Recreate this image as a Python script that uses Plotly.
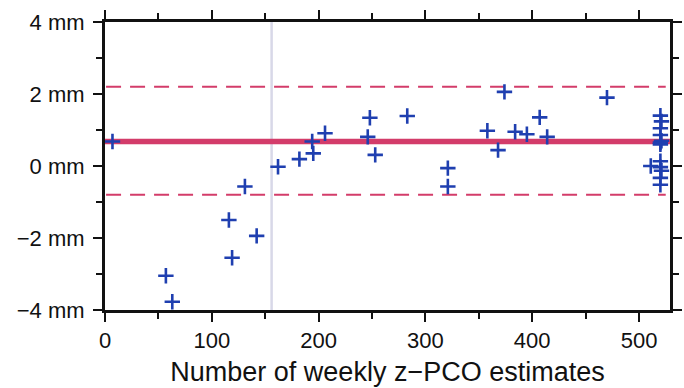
import plotly.graph_objects as go

# Data: weekly z-PCO estimate count vs. offset (mm)
n_estimates = [7, 57, 63, 116, 119, 131, 142, 162, 182, 194, 195, 206,
               246, 248, 253, 283, 321, 321, 358, 368, 374, 384, 395, 407,
               414, 470, 511,
               520, 521, 520, 520, 521, 520, 520, 520, 520, 521, 520, 520]
offset_mm = [0.68, -3.05, -3.77, -1.5, -2.55, -0.57, -1.94, -0.02, 0.19, 0.68, 0.35, 0.91,
             0.81, 1.34, 0.31, 1.39, -0.06, -0.57, 0.98, 0.44, 2.06, 0.95, 0.88, 1.35,
             0.81, 1.9, 0.0,
             1.4, 1.24, 1.05, 0.86, 0.7, 0.65, 0.6, 0.13, -0.03, -0.13, -0.33, -0.52]

mean_offset = 0.68
upper_limit = 2.2
lower_limit = -0.8
split_n = 156
x_span = [0, 529]
y_span = [-4, 4]

x_tickvals = [0, 100, 200, 300, 400, 500]
y_tickvals = [-4, -2, 0, 2, 4]
y_ticktext = ["\u22124 mm", "\u22122 mm", "0 mm", "2 mm", "4 mm"]

red = "#d33c6a"
blue = "#1f3fb0"

fig = go.Figure()

# vertical split line
fig.add_trace(go.Scatter(x=[split_n, split_n], y=y_span, mode="lines",
                         line=dict(color="#d8d8e8", width=2.5),
                         hoverinfo="skip", showlegend=False))
# limits
for lim in (upper_limit, lower_limit):
    fig.add_trace(go.Scatter(x=[1, 525], y=[lim, lim], mode="lines",
                             line=dict(color=red, width=2, dash="15px,9px"),
                             hoverinfo="skip", showlegend=False))
# mean
fig.add_trace(go.Scatter(x=x_span, y=[mean_offset, mean_offset], mode="lines",
                         line=dict(color=red, width=5.5),
                         hoverinfo="skip", showlegend=False))
# points
fig.add_trace(go.Scatter(x=n_estimates, y=offset_mm, mode="markers",
                         marker=dict(symbol="cross-thin", size=11,
                                     line=dict(color=blue, width=2.6)),
                         cliponaxis=False, showlegend=False))

font = "Liberation Sans, Arial, Helvetica, sans-serif"

fig.update_layout(
    width=684, height=388,
    margin=dict(l=105, r=2, t=22, b=78),
    paper_bgcolor="white", plot_bgcolor="white",
    font=dict(family=font, color="#111111"),
    xaxis=dict(range=x_span, tickvals=x_tickvals, ticks="outside",
               ticklen=9, tickwidth=2, tickcolor="#111111",
               minor=dict(dtick=50, tick0=0, ticks="outside", ticklen=6,
                          tickwidth=2, tickcolor="#111111"),
               showline=True, linewidth=3, linecolor="#111111", mirror="ticks",
               showgrid=False, zeroline=False,
               tickfont=dict(size=22),
               title=dict(text="Number of weekly z\u2212PCO estimates",
                          font=dict(size=27), standoff=10)),
    yaxis=dict(range=y_span, tickvals=y_tickvals, ticktext=y_ticktext,
               ticks="outside", ticklen=9, tickwidth=2, tickcolor="#111111",
               minor=dict(dtick=1, tick0=0, ticks="outside", ticklen=6,
                          tickwidth=2, tickcolor="#111111"),
               showline=True, linewidth=3, linecolor="#111111", mirror="ticks",
               showgrid=False, zeroline=False,
               tickfont=dict(size=22), ticklabelstandoff=4),
)

fig.write_html("out.html")
